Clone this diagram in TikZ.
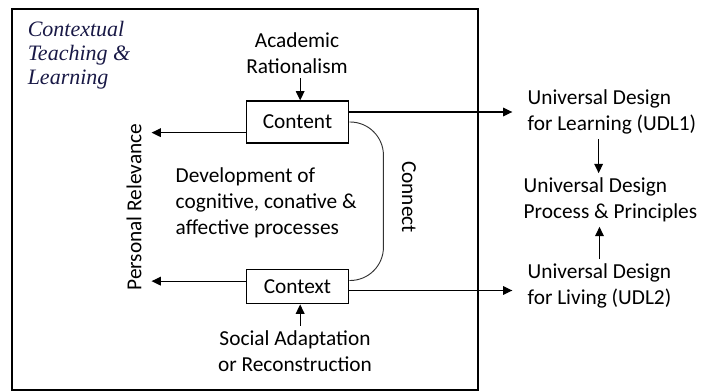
\documentclass[tikz,border=0pt]{standalone}
\usepackage{fontspec}
\newfontfamily\calibri{Carlito}
\newfontfamily\titlefont{Liberation Serif}
\usepackage{tikz}
\usetikzlibrary{positioning,arrows.meta}
\definecolor{titleblue}{RGB}{25,25,70}

\begin{document}
\begin{tikzpicture}[x=0.75pt, y=-0.75pt,
    every node/.style={font=\calibri\fontsize{16}{19.5}\selectfont},
    box/.style={draw, line width=0.9pt, minimum width=77pt, inner sep=0pt},
    label/.style={align=center},
    side/.style={align=left, anchor=west},
    arr/.style={line width=0.9pt, -{Triangle[length=7pt,width=6.5pt]}},
    link/.style={line width=0.7pt, black!80, rounded corners=25pt}]
    \useasboundingbox (0,0) rectangle (710,392);

    % Outer frame and title
    \draw[line width=1.2pt] (12,9) rectangle (478,390);
    \node[align=left, text=titleblue, font=\titlefont\itshape\fontsize{16.5}{18}\selectfont] (ctl) at (79,55) {Contextual\\Teaching \&\\Learning};

    % Content and context boxes
    \node[box, minimum height=31.5pt] (content) at (297.5,122) {Content};
    \node[box, minimum height=26pt] (context) at (297.5,286.5) {Context};

    \node[label] (acad) at (297,53) {Academic\\Rationalism};
    \node[label] (social) at (295,351) {Social Adaptation\\or Reconstruction};
    \node[rotate=90] (pers) at (134,207) {Personal Relevance};
    \node[rotate=-90] (conn) at (409,197) {Connect};
    \node[side] (dev) at (171,203) {Development of\\cognitive, conative \&\\affective processes};

    \draw[arr] ([xshift=2pt]content.north |- acad.south) -- ([xshift=2pt]content.north);
    \draw[arr] ([xshift=2pt]context.south |- social.north) -- ([xshift=2pt]context.south);
    \draw[arr, shorten >=4pt] ([yshift=-8pt]content.west) -- ([yshift=-8pt]content.west -| pers.south);
    \draw[arr, shorten >=4pt] ([yshift=4pt]context.west) -- ([yshift=4pt]context.west -| pers.south);

    % Connect curve
    \draw[link] (content.east) -- ++(34,0) |- ([yshift=4.5pt]context.east);

    % Universal design side
    \node[side] (udl1) at (523,112) {Universal Design\\for Learning (UDL1)};
    \node[side] (udp) at (519,200) {Universal Design\\Process \& Principles};
    \node[side] (udl2) at (523,286) {Universal Design\\for Living (UDL2)};

    \draw[arr, shorten >=8pt] (udl1.west -| content.east) -- (udl1.west);
    \draw[arr, shorten >=8pt] ([yshift=-3pt]context.east) -- ([yshift=-3pt]context.east -| udl2.west);
    \draw[arr] ([xshift=-10pt]udl1.south) -- ([xshift=-10pt]udl1.south |- udp.north);
    \draw[arr] (udl2.north) -- (udl2.north |- udp.south);
\end{tikzpicture}
\end{document}
